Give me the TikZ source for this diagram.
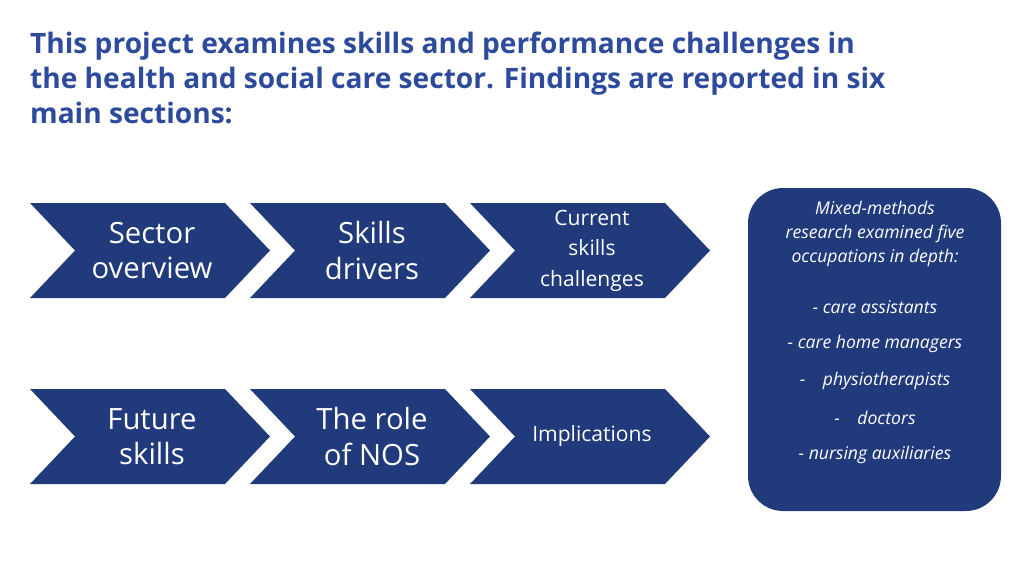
\documentclass[tikz,border=0pt]{standalone}
\usepackage{fontspec}
\setmainfont{Open Sans}
\usetikzlibrary{calc}
\definecolor{navy}{HTML}{213A7B}
\definecolor{titleblue}{HTML}{2D4A9C}
\tikzset{
  chev/.style={fill=navy},
  chevtext/.style={text=white, align=center, font=\fontsize{25}{30}\selectfont},
  chevsmall/.style={text=white, align=center, font=\fontsize{18}{26}\selectfont},
  boxtext/.style={text=white, align=center, font=\itshape\fontsize{15}{20.5}\selectfont}
}
\newcommand{\chevronat}[3]{% x, y-top, name
  \fill[chev] (#1,#2) -- ++(195,0) -- ++(45,47.5) -- ++(-45,47.5) -- ++(-195,0) -- ++(45,-47.5) -- cycle;
  \coordinate (#3) at ($(#1,#2)+(122,47.5)$);
}
\begin{document}
\begin{tikzpicture}[x=0.03cm,y=-0.03cm]
    \useasboundingbox (0,0) rectangle (1024,576);
    \node[anchor=north west, text=titleblue, align=left, font=\bfseries\fontsize{24}{30}\selectfont] (title) at (26,28)
      {This project examines skills and performance challenges in\\the health and social care sector. Findings are reported in six\\main sections:};
    \chevronat{30}{203}{c1}
    \chevronat{250}{203}{c2}
    \chevronat{470}{203}{c3}
    \chevronat{30}{389}{c4}
    \chevronat{250}{389}{c5}
    \chevronat{470}{389}{c6}
    \node[chevtext] (sector) at (c1) {Sector\\overview};
    \node[chevtext] (drivers) at (c2) {Skills\\drivers};
    \node[chevsmall] (current) at (c3) {Current\\skills\\challenges};
    \node[chevtext] (future) at (c4) {Future\\skills};
    \node[chevtext] (nos) at (c5) {The role\\of NOS};
    \node[chevsmall] (impl) at (c6) {Implications};
    % occupations box
    \fill[navy, rounded corners=30] (748,188) rectangle (1001,511);
    \node[boxtext, anchor=north] (intro) at (875,197) {Mixed-methods\\research examined five\\occupations in depth:};
    \node[boxtext] (occ1) at (875,307) {- care assistants};
    \node[boxtext] (occ2) at (875,344) {- care home managers};
    \node[boxtext] (occ3) at (875,381) {-\quad physiotherapists};
    \node[boxtext] (occ4) at (875,418) {-\quad doctors};
    \node[boxtext] (occ5) at (875,455) {- nursing auxiliaries};
\end{tikzpicture}
\end{document}
